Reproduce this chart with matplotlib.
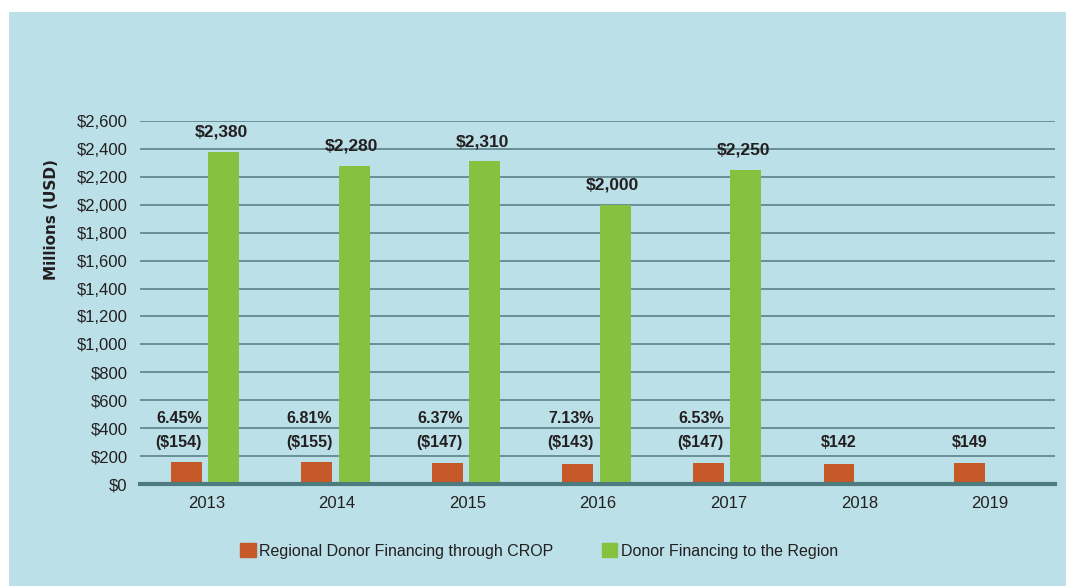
import matplotlib
matplotlib.use("Agg")
import matplotlib.pyplot as plt
from matplotlib.patches import Rectangle
from matplotlib import font_manager

years = ["2013", "2014", "2015", "2016", "2017", "2018", "2019"]
crop = [154, 155, 147, 143, 147, 142, 149]
region = [2380, 2280, 2310, 2000, 2250, None, None]
pct_labels = ["6.45%", "6.81%", "6.37%", "7.13%", "6.53%", None, None]
crop_labels = ["($154)", "($155)", "($147)", "($143)", "($147)", "$142", "$149"]
region_labels = ["$2,380", "$2,280", "$2,310", "$2,000", "$2,250", None, None]
yticks = list(range(0, 2601, 200))
ytick_labels = ["$0", "$200", "$400", "$600", "$800", "$1,000", "$1,200", "$1,400",
                "$1,600", "$1,800", "$2,000", "$2,200", "$2,400", "$2,600"]

names = {f.name for f in font_manager.fontManager.ttflist}
narrow = "Liberation Sans Narrow" if "Liberation Sans Narrow" in names else "Liberation Sans"
plt.rcParams["font.family"] = [narrow, "DejaVu Sans"]

ORANGE = "#C55A28"
GREEN = "#86C23F"
BG = "#BBE0E7"
GRID = "#5B8189"
TXT = "#231F20"

fig = plt.figure(figsize=(10.66, 5.86), dpi=100)
fig.patch.set_facecolor("white")
fig.patches.append(Rectangle((9 / 1066, 0), 1, 1 - 12 / 586, transform=fig.transFigure,
                             facecolor=BG, edgecolor="none", zorder=-10))

ax = fig.add_axes([140 / 1066, 1 - 484 / 586, 915 / 1066, 363 / 586])
ax.set_facecolor("none")
ax.set_zorder(1)

w = 0.237
x = list(range(len(years)))
xo = [i - 0.155 for i in x]
xg = [i + 0.13 for i in x]

ax.bar(xo, crop, width=w, color=ORANGE, zorder=3)
gx = [xg[i] for i in x if region[i] is not None]
gv = [region[i] for i in x if region[i] is not None]
ax.bar(gx, gv, width=w, color=GREEN, zorder=3)

for i in x:
    if region[i] is not None:
        ax.text(xg[i] - 0.02, region[i] + 85, region_labels[i], ha="center", va="bottom",
                fontsize=12.5, fontweight="bold", color=TXT, zorder=4)
    if pct_labels[i] is not None:
        ax.text(xo[i] + w / 2, 466, pct_labels[i], ha="right", va="center",
                fontsize=11.5, fontweight="bold", color=TXT, zorder=4)
        ax.text(xo[i] + w / 2, 300, crop_labels[i], ha="right", va="center",
                fontsize=11.5, fontweight="bold", color=TXT, zorder=4)
    else:
        ax.text(xo[i], 300, crop_labels[i], ha="center", va="center",
                fontsize=11.5, fontweight="bold", color=TXT, zorder=4)

ax.set_xlim(-0.51, 6.5)
ax.set_ylim(0, 2600)
ax.set_yticks(yticks)
ax.set_yticklabels(ytick_labels, fontsize=12, color=TXT)
ax.set_xticks(x)
ax.set_xticklabels(years, fontsize=12, color=TXT)
ax.tick_params(axis="both", length=0)
ax.tick_params(axis="y", pad=9)
ax.tick_params(axis="x", pad=9)
ax.yaxis.grid(True, color=GRID, linewidth=1.2, zorder=1)
ax.set_axisbelow(True)
for s in ["top", "right", "left"]:
    ax.spines[s].set_visible(False)
ax.spines["bottom"].set_color("#4E7B80")
ax.spines["bottom"].set_linewidth(3)
ax.spines["bottom"].set_zorder(5)

fig.text(52 / 1066, 1 - 220 / 586, "Millions (USD)", rotation=90, ha="center", va="center",
         fontsize=11, fontweight="bold", color=TXT, family=["DejaVu Sans"])

handles = [Rectangle((0, 0), 1, 1, color=ORANGE), Rectangle((0, 0), 1, 1, color=GREEN)]
fig.legend(handles, ["Regional Donor Financing through CROP", "Donor Financing to the Region"],
           loc="center", bbox_to_anchor=(539 / 1066, 1 - 551 / 586), ncol=2, frameon=False,
           fontsize=11.5, handlelength=1.0, handleheight=1.0, handletextpad=0.2,
           columnspacing=3.0, labelcolor=TXT)

fig.savefig("out.png", dpi=100, facecolor=fig.get_facecolor())
